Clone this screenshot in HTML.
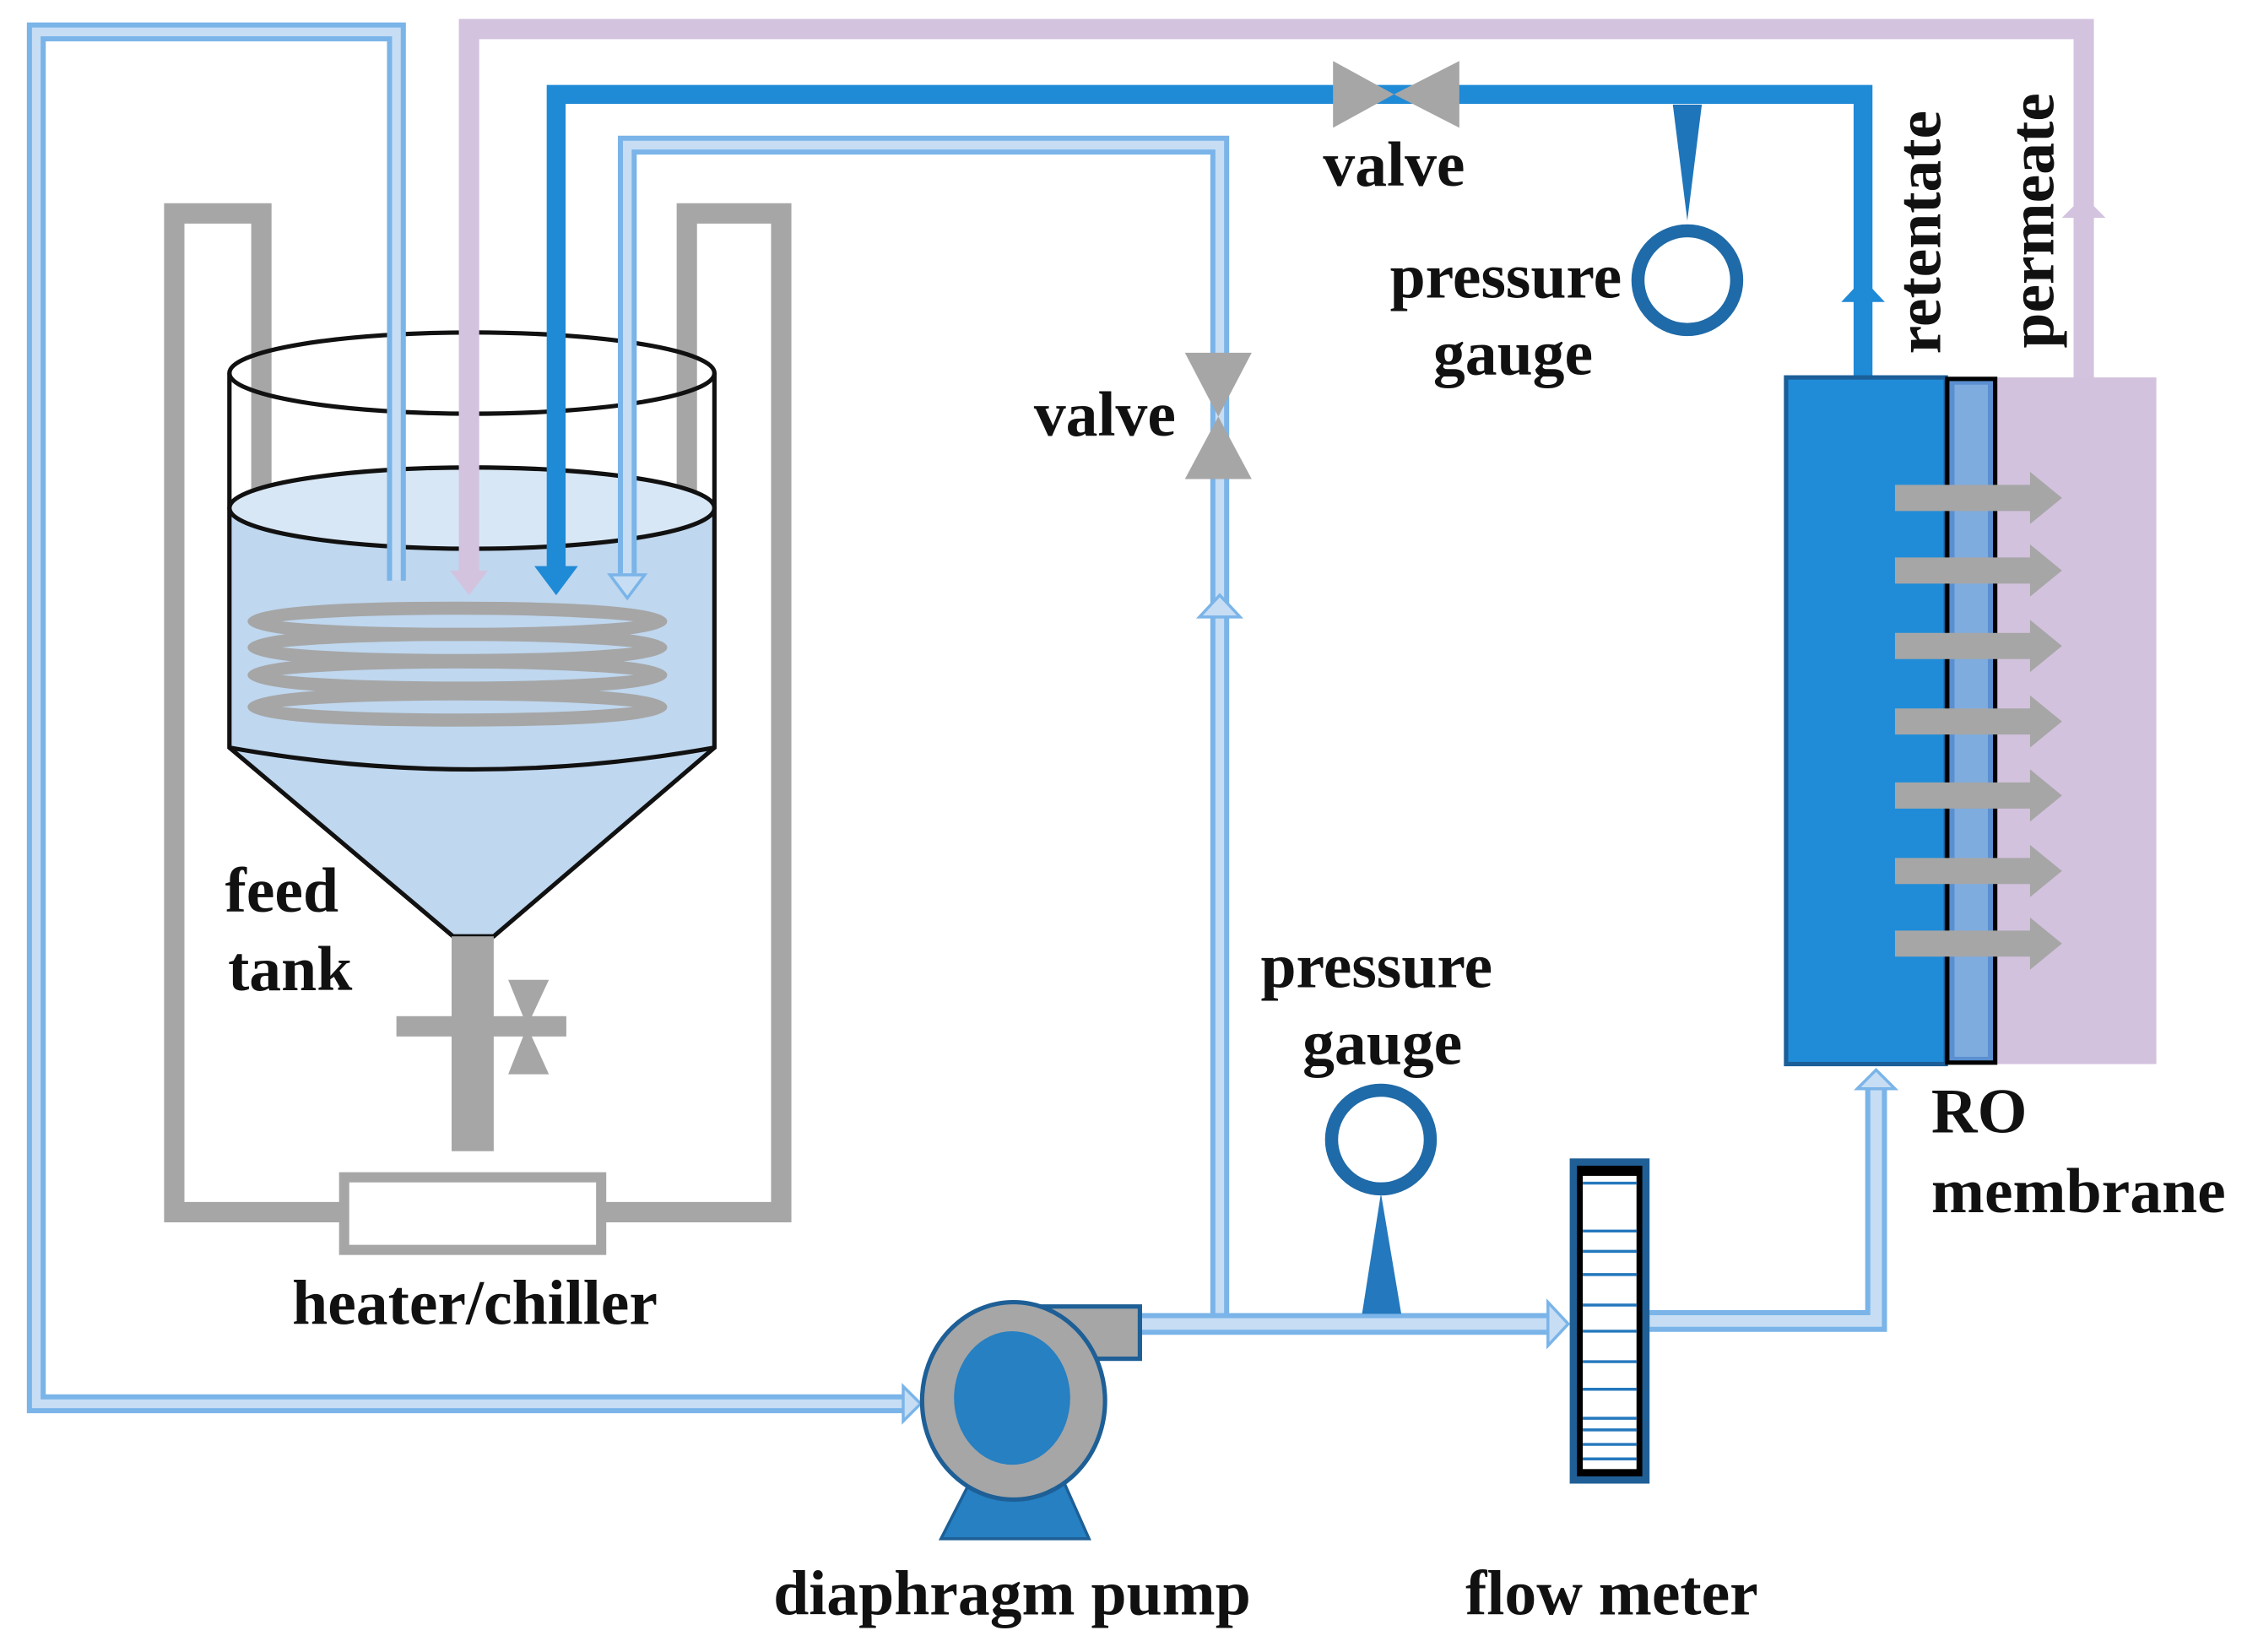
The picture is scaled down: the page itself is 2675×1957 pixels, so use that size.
<!DOCTYPE html>
<html><head><meta charset="utf-8"><style>html,body{margin:0;padding:0;background:#fff}svg{display:block}</style></head>
<body>
<svg width="2675" height="1957" viewBox="0 0 1555 1138" preserveAspectRatio="none" xmlns="http://www.w3.org/2000/svg">
<rect width="1555" height="1138" fill="#fff"/>
<g font-family="Liberation Serif, serif" font-weight="bold" font-size="44" fill="#111">
<g fill="none" stroke="#a6a6a6" stroke-width="14">
<path d="M180,490 V147 H120 V835 H235"/>
<path d="M415,835 H538 V147 H473 V490"/>
</g>
<path d="M158,350 V515 L312,645 H340 L492,515 V350 Z" fill="#bfd7ef"/>
<ellipse cx="325" cy="350" rx="167" ry="28" fill="#d8e7f6"/>
<g fill="none" stroke="#a6a6a6" stroke-width="9">
<ellipse cx="315" cy="428" rx="140" ry="9"/>
<ellipse cx="315" cy="446" rx="140" ry="9"/>
<ellipse cx="315" cy="465" rx="140" ry="9"/>
<ellipse cx="315" cy="487" rx="140" ry="9"/>
</g>
<g fill="none" stroke="#111" stroke-width="3">
<ellipse cx="325" cy="257" rx="167" ry="28"/>
<ellipse cx="325" cy="350" rx="167" ry="28"/>
<path d="M158,257 V515 L312,645 H340 L492,515 V257"/>
<path d="M158,515 Q325,545 492,515"/>
</g>
<rect x="311" y="645" width="29" height="148" fill="#a6a6a6"/>
<rect x="273" y="700" width="117" height="14" fill="#a6a6a6"/>
<path d="M350,675 H378 L363,707 Z M350,740 H378 L363,707 Z" fill="#a6a6a6"/>
<rect x="237" y="811" width="177" height="50" fill="#fff" stroke="#a6a6a6" stroke-width="7"/>
<g fill="none" stroke-linejoin="miter">
<path d="M273,400 V22 H25 V967 H625" stroke="#7ab4e8" stroke-width="13"/>
<path d="M273,400 V22 H25 V967 H625" stroke="#c6ddf4" stroke-width="6"/>
<path d="M432,395 V100 H840 V910" stroke="#7ab4e8" stroke-width="13"/>
<path d="M432,395 V100 H840 V910" stroke="#c6ddf4" stroke-width="6"/>
<path d="M785,912 H1070" stroke="#7ab4e8" stroke-width="15"/>
<path d="M785,912 H1070" stroke="#c6ddf4" stroke-width="8"/>
<path d="M1136,910 H1292 V745" stroke="#7ab4e8" stroke-width="15"/>
<path d="M1136,910 H1292 V745" stroke="#c6ddf4" stroke-width="8"/>
</g>
<path d="M420,396 H444 L432,412 Z" fill="#c6ddf4" stroke="#7ab4e8" stroke-width="2"/>
<path d="M622,955 L634,967 L622,979 Z" fill="#c6ddf4" stroke="#7ab4e8" stroke-width="2"/>
<path d="M826,425 L840,410 L854,425 Z" fill="#c6ddf4" stroke="#7ab4e8" stroke-width="2"/>
<path d="M1066,897 L1080,912 L1066,927 Z" fill="#c6ddf4" stroke="#7ab4e8" stroke-width="2"/>
<path d="M1279,750 L1292,737 L1305,750 Z" fill="#c6ddf4" stroke="#7ab4e8" stroke-width="2"/>
<path d="M323,395 V20 H1435 V262" fill="none" stroke="#d3c3df" stroke-width="14"/>
<path d="M310,393 H336 L323,410 Z" fill="#d3c3df"/>
<path d="M1420,150 L1435,135 L1450,150 Z" fill="#d3c3df"/>
<path d="M383,392 V65 H1283 V262" fill="none" stroke="#1f8ad6" stroke-width="13"/>
<path d="M368,390 H398 L383,410 Z" fill="#1f8ad6"/>
<path d="M1268,208 L1283,192 L1298,208 Z" fill="#1f8ad6"/>
<path d="M918,42 V88 L960,65 Z M1005,42 V88 L960,65 Z" fill="#a6a6a6"/>
<path d="M816,243 H862 L839,287 Z M816,330 H862 L839,287 Z" fill="#a6a6a6"/>
<path d="M1152,72 H1172 L1162,152 Z" fill="#1f75ba"/>
<circle cx="1162" cy="193" r="34" fill="none" stroke="#1f6aa8" stroke-width="9"/>
<circle cx="951" cy="785" r="34" fill="none" stroke="#1f6aa8" stroke-width="9"/>
<path d="M951,822 L938,905 H965 Z" fill="#2478bd"/>
<rect x="700" y="900" width="85" height="36" fill="#a6a6a6" stroke="#1d5f96" stroke-width="3"/>
<path d="M671,1015 H730 L750,1060 H648 Z" fill="#2680c2" stroke="#1d5f96" stroke-width="2"/>
<ellipse cx="698" cy="965" rx="63" ry="68" fill="#a6a6a6" stroke="#1d5f96" stroke-width="3"/>
<ellipse cx="697" cy="963" rx="40" ry="46" fill="#2680c2"/>
<rect x="1081" y="798" width="55" height="224" fill="#1f5f96"/>
<rect x="1086" y="803" width="45" height="214" fill="#000"/>
<rect x="1090" y="810" width="37" height="202" fill="#fff"/>
<g stroke="#2478bd" stroke-width="2">
<line x1="1090" y1="815" x2="1127" y2="815"/>
<line x1="1090" y1="878" x2="1127" y2="878"/>
<line x1="1090" y1="899" x2="1127" y2="899"/>
<line x1="1090" y1="917" x2="1127" y2="917"/>
<line x1="1090" y1="938" x2="1127" y2="938"/>
<line x1="1090" y1="957" x2="1127" y2="957"/>
<line x1="1090" y1="977" x2="1127" y2="977"/>
<line x1="1090" y1="1005" x2="1127" y2="1005"/>
<line x1="1090" y1="848" x2="1127" y2="848"/>
<line x1="1090" y1="862" x2="1127" y2="862"/>
<line x1="1090" y1="985" x2="1127" y2="985"/>
<line x1="1090" y1="995" x2="1127" y2="995"/>
</g>
<rect x="1375" y="260" width="110" height="473" fill="#d2c2de"/>
<rect x="1230" y="260" width="110" height="473" fill="#208cd8" stroke="#1b5e98" stroke-width="3"/>
<rect x="1341" y="261" width="33" height="471" fill="#5a8fd0" stroke="#000" stroke-width="3"/>
<rect x="1346" y="265" width="23" height="463" fill="#8db8e6" opacity="0.7"/>
<g fill="#a6a6a6">
<path d="M1305,334 H1398 V325 L1420,343 L1398,361 V352 H1305 Z"/>
<path d="M1305,384 H1398 V375 L1420,393 L1398,411 V402 H1305 Z"/>
<path d="M1305,436 H1398 V427 L1420,445 L1398,463 V454 H1305 Z"/>
<path d="M1305,488 H1398 V479 L1420,497 L1398,515 V506 H1305 Z"/>
<path d="M1305,539 H1398 V530 L1420,548 L1398,566 V557 H1305 Z"/>
<path d="M1305,591 H1398 V582 L1420,600 L1398,618 V609 H1305 Z"/>
<path d="M1305,641 H1398 V632 L1420,650 L1398,668 V659 H1305 Z"/>
</g>
<text x="155" y="628">feed</text>
<text x="157" y="682">tank</text>
<text x="327" y="912" text-anchor="middle">heater/chiller</text>
<text x="697" y="1112" text-anchor="middle">diaphragm pump</text>
<text x="1110" y="1112" text-anchor="middle">flow meter</text>
<text x="948" y="680" text-anchor="middle">pressure</text>
<text x="952" y="733" text-anchor="middle">gauge</text>
<text x="712" y="300">valve</text>
<text x="960" y="128" text-anchor="middle">valve</text>
<text x="1037" y="205" text-anchor="middle">pressure</text>
<text x="1042" y="258" text-anchor="middle">gauge</text>
<text x="1330" y="780">RO</text>
<text x="1330" y="835">membrane</text>
<text transform="translate(1336,160) rotate(-90)" text-anchor="middle">retentate</text>
<text transform="translate(1414,152) rotate(-90)" text-anchor="middle">permeate</text>
</g>
</svg>
</body></html>
